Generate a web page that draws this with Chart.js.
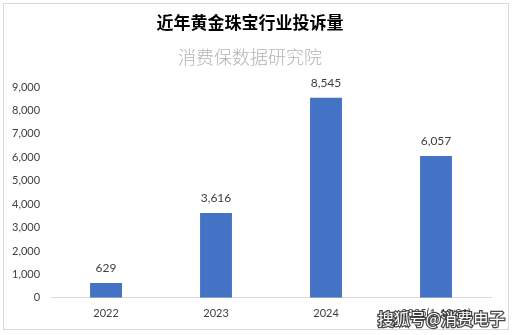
<!DOCTYPE html>
<html>
<head>
<meta charset="utf-8">
<script src="https://cdn.jsdelivr.net/npm/chart.js@4/dist/chart.umd.min.js"></script>
<style>
  html, body { margin: 0; padding: 0; background: #fff; }
  #wrap { width: 514px; height: 335px; position: relative; }
</style>
</head>
<body>
<div id="wrap"><canvas id="complaintChart"></canvas></div>
<script>
// complaint counts per year
const years = ['2022', '2023', '2024', '2025(1-10.31)'];
const complaints = [629, 3616, 8545, 6057];
const yTicks = [0, 1000, 2000, 3000, 4000, 5000, 6000, 7000, 8000, 9000];

const chartTitle = '近年黄金珠宝行业投诉量';
const chartSubtitle = '消费保数据研究院';
const watermark = '搜狐号@消费电子';

const fmt = v => v.toLocaleString('en-US');

// outer frame, value labels and the corner watermark
const extras = {
  id: 'extras',
  beforeDraw(chart) {
    const c = chart.ctx;
    c.save();
    c.fillStyle = '#fff';
    c.fillRect(0, 0, chart.width, chart.height);
    c.strokeStyle = '#d9d9d9';
    c.lineWidth = 1;
    c.strokeRect(3.5, 3.5, 505, 326);
    c.restore();
  },
  afterDatasetsDraw(chart) {
    const c = chart.ctx;
    const meta = chart.getDatasetMeta(0);
    c.save();
    c.font = '12px Lato, "Liberation Sans", sans-serif';
    c.fillStyle = '#404040';
    c.textAlign = 'center';
    c.textBaseline = 'bottom';
    meta.data.forEach((bar, i) => {
      c.fillText(fmt(complaints[i]), bar.x, bar.y - 9);
    });
    c.restore();
  },
  afterDraw(chart) {
    const c = chart.ctx;
    c.save();
    c.font = '16px "Noto Sans CJK SC", sans-serif';
    c.textAlign = 'right';
    c.textBaseline = 'middle';
    c.lineWidth = 2.5;
    c.strokeStyle = 'rgba(40,40,40,0.85)';
    c.strokeText(watermark, 505, 319);
    c.fillStyle = '#fff';
    c.fillText(watermark, 505, 319);
    c.restore();
  }
};

new Chart(document.getElementById('complaintChart'), {
  type: 'bar',
  data: {
    labels: years,
    datasets: [{
      data: complaints,
      backgroundColor: '#4472C4',
      barPercentage: 0.58,
      categoryPercentage: 0.5
    }]
  },
  options: {
    responsive: true,
    maintainAspectRatio: false,
    animation: false,
    layout: { padding: { left: 9, right: 23, top: 4, bottom: 14 } },
    plugins: {
      legend: { display: false },
      tooltip: { enabled: false },
      title: {
        display: true,
        text: chartTitle,
        color: '#000',
        font: { family: '"Noto Sans CJK SC", sans-serif', size: 17, weight: 'bold' },
        padding: { top: 8, bottom: 14 }
      },
      subtitle: {
        display: true,
        text: chartSubtitle,
        color: '#b4b4b4',
        font: { family: '"Noto Sans CJK SC", sans-serif', size: 18, weight: 300 },
        padding: { bottom: 19 }
      }
    },
    scales: {
      x: {
        grid: { display: false },
        border: { color: '#d9d9d9' },
        ticks: { color: '#404040', font: { family: 'Lato, "Liberation Sans", sans-serif', size: 11 }, padding: 1 }
      },
      y: {
        min: yTicks[0],
        max: yTicks[yTicks.length - 1],
        grid: { display: false },
        border: { display: false },
        afterBuildTicks(axis) { axis.ticks = yTicks.map(v => ({ value: v })); },
        ticks: {
          color: '#404040',
          font: { family: 'Lato, "Liberation Sans", sans-serif', size: 11 },
          padding: 3,
          callback: v => fmt(v)
        }
      }
    }
  },
  plugins: [extras]
});
</script>
</body>
</html>
